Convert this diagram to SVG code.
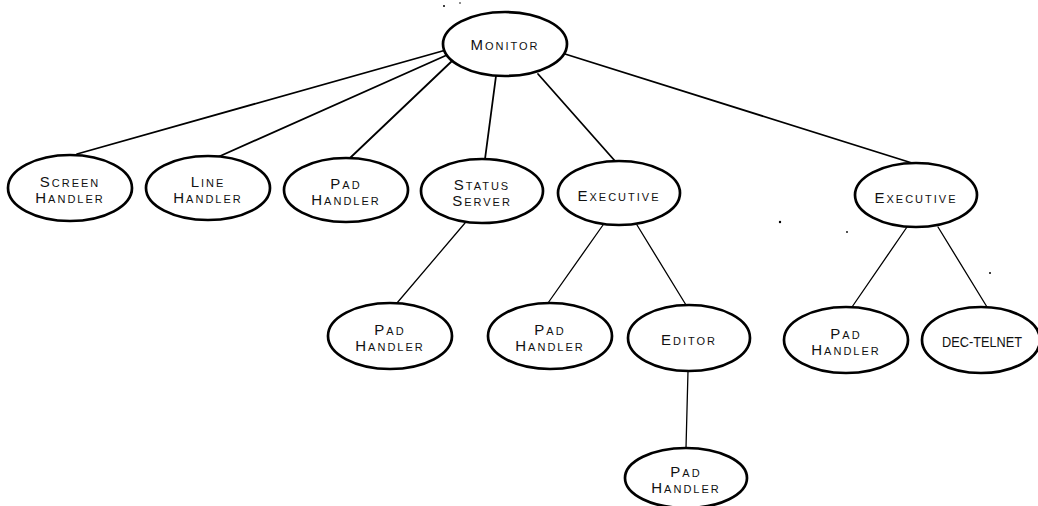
<svg xmlns="http://www.w3.org/2000/svg" width="1038" height="506" viewBox="0 0 1038 506">
<style>
.n ellipse{fill:#fff;stroke:#000;stroke-width:2.7}
.n text{font-family:"Liberation Sans","DejaVu Sans",sans-serif;font-size:15px;font-variant:small-caps;letter-spacing:2px;text-anchor:middle;fill:#111}
.c line{stroke:#000;stroke-width:1.8;stroke-linecap:round}
.c line.t{stroke-width:1.3}
.speck{fill:#000}
</style>
<rect width="1038" height="506" fill="#fff"/>
<g id="connectors" class="c">
<line x1="446" y1="50" x2="77" y2="154"/>
<line x1="447" y1="55" x2="218" y2="157"/>
<line x1="452" y1="61" x2="350" y2="158"/>
<line x1="496" y1="76" x2="485" y2="159"/>
<line x1="538" y1="74" x2="615" y2="161"/>
<line x1="565" y1="54" x2="912" y2="163"/>
<line class="t" x1="465" y1="223" x2="397" y2="303"/>
<line class="t" x1="603" y1="225" x2="548" y2="303"/>
<line class="t" x1="637" y1="225" x2="686" y2="305"/>
<line class="t" x1="907" y1="227" x2="852" y2="307"/>
<line class="t" x1="938" y1="227" x2="987" y2="307"/>
<line class="t" x1="688" y1="371" x2="686" y2="448"/>
</g>
<g id="monitor" class="n"><ellipse cx="505" cy="44" rx="62" ry="32"/><text x="505" y="50">Monitor</text></g>
<g id="screen-handler" class="n"><ellipse cx="70" cy="188" rx="62" ry="33"/><text x="70" y="187">Screen</text><text x="70" y="203">Handler</text></g>
<g id="line-handler" class="n"><ellipse cx="208" cy="188" rx="62" ry="32"/><text x="208" y="187">Line</text><text x="208" y="203">Handler</text></g>
<g id="pad-handler-1" class="n"><ellipse cx="346" cy="190" rx="62" ry="32"/><text x="346" y="189">Pad</text><text x="346" y="205">Handler</text></g>
<g id="status-server" class="n"><ellipse cx="482" cy="191" rx="61" ry="32"/><text x="482" y="190">Status</text><text x="482" y="206">Server</text></g>
<g id="executive-1" class="n"><ellipse cx="619" cy="193" rx="61" ry="32"/><text x="619" y="201">Executive</text></g>
<g id="executive-2" class="n"><ellipse cx="916" cy="195" rx="61" ry="32"/><text x="916" y="203">Executive</text></g>
<g id="pad-handler-2" class="n"><ellipse cx="390" cy="336" rx="62" ry="33"/><text x="390" y="335">Pad</text><text x="390" y="351">Handler</text></g>
<g id="pad-handler-3" class="n"><ellipse cx="550" cy="336" rx="62" ry="33"/><text x="550" y="335">Pad</text><text x="550" y="351">Handler</text></g>
<g id="editor" class="n"><ellipse cx="689" cy="338" rx="61" ry="33"/><text x="689" y="345">Editor</text></g>
<g id="pad-handler-4" class="n"><ellipse cx="846" cy="340" rx="62" ry="33"/><text x="846" y="339">Pad</text><text x="846" y="355">Handler</text></g>
<g id="dec-telnet" class="n"><ellipse cx="981" cy="340" rx="59" ry="33"/><text x="982" y="347" textLength="80" lengthAdjust="spacingAndGlyphs" style="letter-spacing:0">DEC-TELNET</text></g>
<g id="pad-handler-5" class="n"><ellipse cx="686" cy="478" rx="61" ry="30"/><text x="686" y="477">Pad</text><text x="686" y="493">Handler</text></g>
<g id="specks">
<circle class="speck" cx="444" cy="6" r="1"/>
<circle class="speck" cx="460" cy="3" r="0.8"/>
<circle class="speck" cx="780" cy="222" r="1.2"/>
<circle class="speck" cx="847" cy="232" r="0.9"/>
<circle class="speck" cx="990" cy="273" r="1"/>
</g>
</svg>
